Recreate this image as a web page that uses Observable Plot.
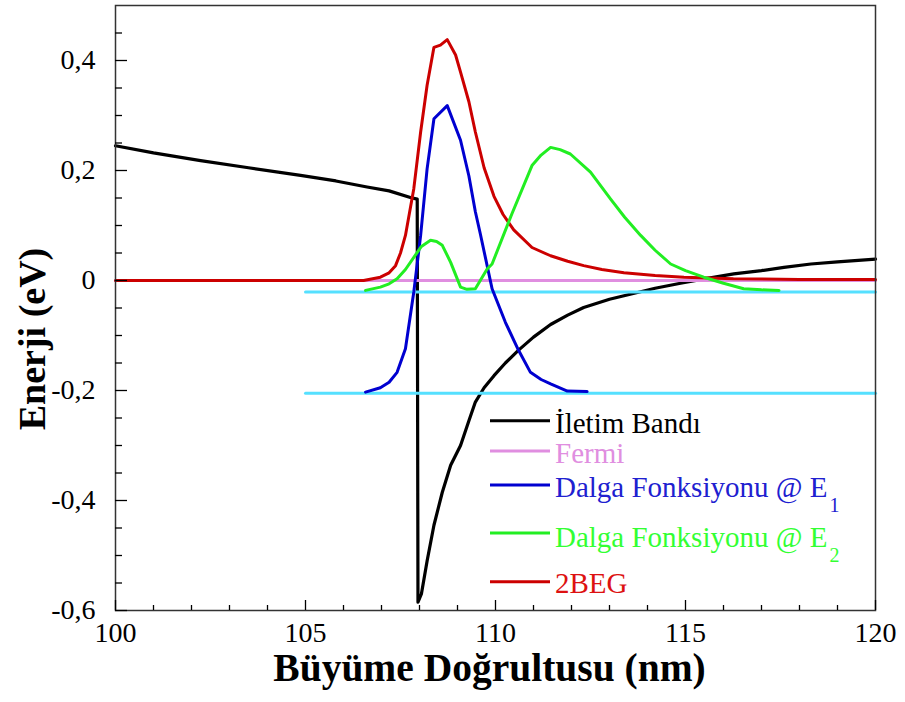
<!DOCTYPE html>
<html>
<head>
<meta charset="utf-8">
<script src="https://cdn.jsdelivr.net/npm/d3@7"></script>
<script src="https://cdn.jsdelivr.net/npm/@observablehq/plot@0.6"></script>
<style>
  html, body { margin: 0; padding: 0; background: #fff; }
  #wrap { position: relative; width: 905px; height: 702px; }
  #wrap svg { position: absolute; left: 0; top: 0; }
</style>
</head>
<body>
<div id="wrap"></div>
<script>
// ---------- data ----------
const bandX = [100, 101, 102.24, 103.5, 104.87, 105.8, 106.62, 107.2, 107.76, 107.94, 107.96, 108.05, 108.2, 108.38, 108.6, 108.82, 109.08, 109.3, 109.47, 109.7, 109.96, 110.26, 110.6, 111.0, 111.45, 111.9, 112.32, 113.0, 113.6, 114.2, 114.87, 115.5, 116.27, 117.0, 117.59, 118.3, 119.0, 120];
const bandY = [0.245, 0.232, 0.218, 0.205, 0.191, 0.181, 0.170, 0.163, 0.151, 0.148, -0.585, -0.57, -0.51, -0.445, -0.385, -0.336, -0.300, -0.255, -0.221, -0.195, -0.173, -0.150, -0.127, -0.103, -0.080, -0.063, -0.049, -0.034, -0.024, -0.014, -0.005, 0.003, 0.012, 0.018, 0.024, 0.030, 0.034, 0.039];

const e1X = [106.58, 106.97, 107.2, 107.41, 107.63, 107.85, 108.03, 108.2, 108.38, 108.73, 109.08, 109.3, 109.47, 109.6, 109.91, 110.26, 110.6, 110.92, 111.2, 111.45, 111.89, 112.41];
const e1Y = [-0.203, -0.195, -0.185, -0.167, -0.124, -0.021, 0.082, 0.203, 0.294, 0.318, 0.255, 0.190, 0.125, 0.085, -0.015, -0.076, -0.126, -0.167, -0.180, -0.188, -0.201, -0.202];

const e2X = [106.58, 106.97, 107.2, 107.41, 107.63, 107.85, 108.05, 108.29, 108.45, 108.6, 108.82, 109.08, 109.25, 109.47, 109.78, 109.91, 110.43, 110.96, 111.2, 111.45, 111.7, 111.97, 112.5, 113.03, 113.4, 113.82, 114.2, 114.61, 115.0, 115.48, 116.0, 116.53, 117.0, 117.46];
const e2Y = [-0.018, -0.012, -0.006, 0.003, 0.020, 0.042, 0.062, 0.073, 0.071, 0.064, 0.033, -0.012, -0.016, -0.015, 0.021, 0.030, 0.121, 0.209, 0.228, 0.242, 0.238, 0.230, 0.197, 0.148, 0.115, 0.082, 0.055, 0.030, 0.018, 0.006, -0.005, -0.015, -0.017, -0.018];

const begX = [100, 106.53, 106.97, 107.2, 107.37, 107.5, 107.63, 107.85, 108.03, 108.2, 108.38, 108.55, 108.73, 108.95, 109.08, 109.3, 109.47, 109.7, 109.96, 110.2, 110.48, 110.96, 111.45, 111.9, 112.32, 112.8, 113.38, 114.2, 114.96, 116.26, 118, 120];
const begY = [0, 0, 0.006, 0.014, 0.027, 0.050, 0.082, 0.167, 0.270, 0.355, 0.424, 0.428, 0.438, 0.410, 0.379, 0.325, 0.270, 0.205, 0.153, 0.120, 0.092, 0.060, 0.045, 0.035, 0.027, 0.020, 0.014, 0.009, 0.006, 0.003, 0.002, 0.002];

const fermiLevel = 0;
const fermiRange = [100, 120];
const e1Level = -0.205;
const e2Level = -0.021;
const levelRange = [105, 120];

const xMajor = [100, 105, 110, 115, 120];
const xMinor = [101, 102, 103, 104, 106, 107, 108, 109, 111, 112, 113, 114, 116, 117, 118, 119];
const yMajor = [-0.6, -0.4, -0.2, 0, 0.2, 0.4];
const yMinor = [-0.55, -0.5, -0.45, -0.35, -0.3, -0.25, -0.15, -0.1, -0.05, 0.05, 0.1, 0.15, 0.25, 0.3, 0.35, 0.45];

const xTitle = "Büyüme Doğrultusu (nm)";
const yTitle = "Enerji (eV)";

const legendLabels = ["İletim Bandı", "Fermi", "Dalga Fonksiyonu @ E", "Dalga Fonksiyonu @ E", "2BEG"];
const legendSubs = ["", "", "1", "2", ""];
const lineColors = ["#000000", "#e08ee0", "#0000d0", "#22ee22", "#cc0000"];
const textColors = ["#000000", "#e08ee0", "#2020d0", "#33ff33", "#dd1111"];
const levelColor = "#55e0ff";

// ---------- build tables ----------
const zip = (xs, ys) => xs.map((x, i) => ({x, y: ys[i]}));
const band = zip(bandX, bandY);
const e1 = zip(e1X, e1Y);
const e2 = zip(e2X, e2Y);
const beg = zip(begX, begY);
const fermi = fermiRange.map(x => ({x, y: fermiLevel}));
const lev1 = levelRange.map(x => ({x, y: e1Level}));
const lev2 = levelRange.map(x => ({x, y: e2Level}));

const fmt = d => d === 0 ? "0" : d.toFixed(1).replace(".", ",");
const serif = "'Liberation Serif', 'Times New Roman', serif";

const chart = Plot.plot({
  width: 905,
  height: 702,
  marginLeft: 115,
  marginRight: 30,
  marginTop: 5,
  marginBottom: 92,
  x: {domain: [100, 120]},
  y: {domain: [-0.6, 0.5]},
  style: {fontFamily: serif, fontSize: "28px", color: "#000", background: "#fff", overflow: "visible"},
  marks: [
    Plot.line(band, {x: "x", y: "y", stroke: lineColors[0], strokeWidth: 3.2}),
    Plot.line(lev1, {x: "x", y: "y", stroke: levelColor, strokeWidth: 3}),
    Plot.line(lev2, {x: "x", y: "y", stroke: levelColor, strokeWidth: 3}),
    Plot.line(fermi, {x: "x", y: "y", stroke: lineColors[1], strokeWidth: 3}),
    Plot.line(e1, {x: "x", y: "y", stroke: lineColors[2], strokeWidth: 3}),
    Plot.line(beg, {x: "x", y: "y", stroke: lineColors[4], strokeWidth: 3}),
    Plot.line(e2, {x: "x", y: "y", stroke: lineColors[3], strokeWidth: 3}),
    Plot.frame({stroke: "#333", strokeWidth: 1.5}),
    Plot.axisY(yMajor, {tickSize: 12, dx: 12, fill: "none", stroke: "#000", strokeWidth: 1.3}),
    Plot.axisY(yMinor, {tickSize: 7, dx: 7, fill: "none", stroke: "#000", strokeWidth: 1.3}),
    Plot.axisY(yMajor, {tickSize: 0, tickPadding: 20, tickFormat: fmt, fontSize: 28, label: null}),
    Plot.axisX(xMajor, {tickSize: 10, dy: -10, fill: "none", stroke: "#000", strokeWidth: 1.3}),
    Plot.axisX(xMinor, {tickSize: 5, dy: -5, fill: "none", stroke: "#000", strokeWidth: 1.3}),
    Plot.axisX(xMajor, {tickSize: 0, tickPadding: 12, tickFormat: d => String(d), fontSize: 28, label: null}),
    Plot.text([xTitle], {text: d => d, frameAnchor: "bottom", textAnchor: "middle", lineAnchor: "bottom", dy: 70, dx: -6, fontSize: 39.5, fontWeight: "bold", fill: "#000"}),
    Plot.text([yTitle], {text: d => d, frameAnchor: "left", textAnchor: "middle", rotate: -90, lineAnchor: "bottom", dx: -71, dy: 31, fontSize: 38, fontWeight: "bold", fill: "#000"})
  ]
});

const wrap = document.getElementById("wrap");
wrap.appendChild(chart);

// ---------- legend (inside the frame, lower right) ----------
const lineYs = [420.7, 451, 485, 533, 581.7];
const baseYs = [433, 463, 496.5, 546.5, 593];
const leg = d3.select(wrap).append("svg")
  .attr("width", 905).attr("height", 702)
  .style("pointer-events", "none")
  .attr("font-family", serif);
legendLabels.forEach((lab, i) => {
  leg.append("line")
    .attr("x1", 490).attr("x2", 550)
    .attr("y1", lineYs[i]).attr("y2", lineYs[i])
    .attr("stroke", lineColors[i]).attr("stroke-width", 3);
  const t = leg.append("text")
    .attr("x", 555).attr("y", baseYs[i])
    .attr("font-size", 29)
    .attr("fill", textColors[i])
    .text(lab);
  if (legendSubs[i]) {
    t.append("tspan").attr("font-size", 20).attr("dx", 2).attr("dy", 15).text(legendSubs[i]);
  }
});
</script>
</body>
</html>
